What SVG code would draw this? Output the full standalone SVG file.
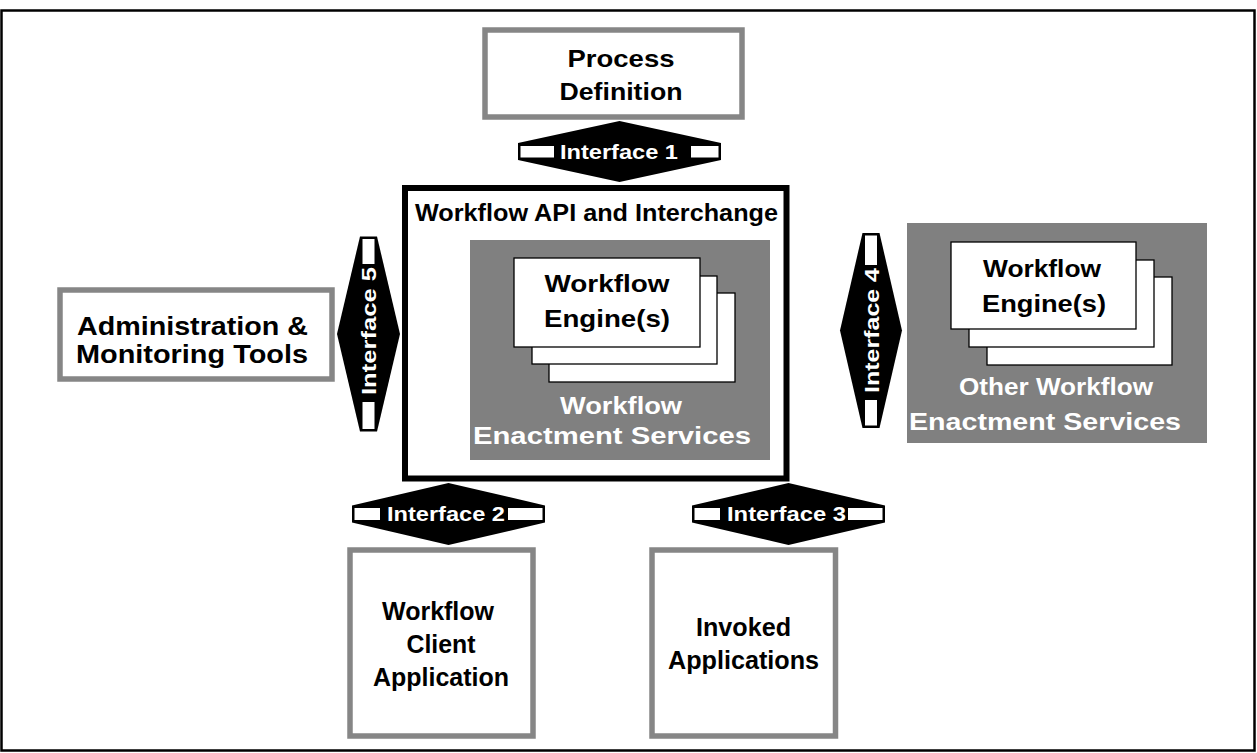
<svg xmlns="http://www.w3.org/2000/svg" width="1257" height="753" viewBox="0 0 1257 753">
  <style>
    text { font-family: "Liberation Sans", Arial, sans-serif; font-weight: bold; text-anchor: middle; }
    .frame { fill: none; stroke: #000; stroke-width: 2.5; }
    .tool { fill: #fff; stroke: #868686; stroke-width: 5.5; }
    .core { fill: #fff; stroke: #000; stroke-width: 6; }
    .svc { fill: #808080; }
    .card { fill: #fff; stroke: #000; stroke-width: 1.3; }
    .dark { fill: #000; font-size: 24.5px; }
    .light { fill: #fff; font-size: 24.5px; }
    .big { font-size: 25.5px; }
    .title { fill: #000; font-size: 23.5px; }
    .arrow { fill: #000; }
    .gap { fill: #fff; }
    .iflabel { fill: #fff; font-size: 21px; }
  </style>

  <rect class="frame" x="1.5" y="10.5" width="1253" height="740"/>

  <!-- Process definition tool -->
  <g id="process-definition">
    <rect class="tool" x="485" y="30" width="257" height="87"/>
    <text class="dark" x="621" y="67" textLength="107" lengthAdjust="spacingAndGlyphs">Process</text>
    <text class="dark" x="621" y="100" textLength="123" lengthAdjust="spacingAndGlyphs">Definition</text>
  </g>

  <!-- Workflow API and Interchange with enactment service -->
  <g id="workflow-api">
    <rect class="core" x="405" y="188" width="381.5" height="290.5"/>
    <text class="title" x="596.5" y="221" textLength="363" lengthAdjust="spacingAndGlyphs">Workflow API and Interchange</text>
  </g>

  <g id="enactment-services">
    <rect class="svc" x="470" y="240" width="300" height="220"/>
    <rect class="card" x="549" y="293" width="186" height="89"/>
    <rect class="card" x="532" y="276" width="185" height="88"/>
    <rect class="card" x="514" y="258" width="186" height="89"/>
    <text class="dark" x="607" y="292" textLength="125" lengthAdjust="spacingAndGlyphs">Workflow</text>
    <text class="dark" x="607" y="327" textLength="126" lengthAdjust="spacingAndGlyphs">Engine(s)</text>
    <text class="light" x="621" y="414" textLength="122" lengthAdjust="spacingAndGlyphs">Workflow</text>
    <text class="light" x="612" y="444" textLength="278" lengthAdjust="spacingAndGlyphs">Enactment Services</text>
  </g>

  <!-- Other enactment services -->
  <g id="other-enactment-services">
    <rect class="svc" x="907" y="223" width="300" height="220"/>
    <rect class="card" x="987" y="277" width="185" height="88"/>
    <rect class="card" x="969" y="260" width="185" height="87"/>
    <rect class="card" x="951" y="242" width="185" height="87"/>
    <text class="dark" x="1042" y="277" textLength="118" lengthAdjust="spacingAndGlyphs">Workflow</text>
    <text class="dark" x="1044" y="312" textLength="124" lengthAdjust="spacingAndGlyphs">Engine(s)</text>
    <text class="light" x="1056" y="395" textLength="194" lengthAdjust="spacingAndGlyphs">Other Workflow</text>
    <text class="light" x="1045" y="430" textLength="272" lengthAdjust="spacingAndGlyphs">Enactment Services</text>
  </g>

  <!-- Administration and monitoring -->
  <g id="admin-tools">
    <rect class="tool" x="60" y="290" width="272" height="89"/>
    <text class="dark big" x="192.5" y="335" textLength="231" lengthAdjust="spacingAndGlyphs">Administration &amp;</text>
    <text class="dark big" x="192" y="363" textLength="232" lengthAdjust="spacingAndGlyphs">Monitoring Tools</text>
  </g>

  <!-- Client application -->
  <g id="client-application">
    <rect class="tool" x="350" y="550" width="183" height="186"/>
    <text class="dark big" x="438" y="620" textLength="112" lengthAdjust="spacingAndGlyphs">Workflow</text>
    <text class="dark big" x="441" y="653" textLength="69" lengthAdjust="spacingAndGlyphs">Client</text>
    <text class="dark big" x="441" y="686" textLength="136" lengthAdjust="spacingAndGlyphs">Application</text>
  </g>

  <!-- Invoked applications -->
  <g id="invoked-applications">
    <rect class="tool" x="652" y="550" width="183.5" height="186"/>
    <text class="dark big" x="743.5" y="636" textLength="95" lengthAdjust="spacingAndGlyphs">Invoked</text>
    <text class="dark big" x="743.5" y="669" textLength="151" lengthAdjust="spacingAndGlyphs">Applications</text>
  </g>

  <!-- Interface arrows -->
  <g id="connectors">
    <g id="interface-1">
      <polygon class="arrow" points="518,143 619.5,121 721,143 721,160 619.5,182 518,160"/>
      <rect class="gap" x="520.5" y="146" width="198" height="11.5"/>
      <rect class="arrow" x="554" y="143" width="137" height="17"/>
      <text class="iflabel" x="619" y="159" textLength="118" lengthAdjust="spacingAndGlyphs">Interface 1</text>
    </g>
    <g id="interface-2">
      <polygon class="arrow" points="352,505.5 448.5,483 545,505.5 545,522.5 448.5,545 352,522.5"/>
      <rect class="gap" x="354.5" y="508" width="188" height="12"/>
      <rect class="arrow" x="380" y="505.5" width="128" height="17"/>
      <text class="iflabel" x="446" y="521" textLength="118" lengthAdjust="spacingAndGlyphs">Interface 2</text>
    </g>
    <g id="interface-3">
      <polygon class="arrow" points="692,505.5 788.5,483 885,505.5 885,522.5 788.5,545 692,522.5"/>
      <rect class="gap" x="694.5" y="508" width="188" height="12"/>
      <rect class="arrow" x="720" y="505.5" width="128" height="17"/>
      <text class="iflabel" x="786.5" y="521" textLength="119" lengthAdjust="spacingAndGlyphs">Interface 3</text>
    </g>
    <g id="interface-4">
      <polygon class="arrow" points="862.5,233 879.5,233 902,330.5 879.5,428 862.5,428 840,330.5"/>
      <rect class="gap" x="865" y="235.5" width="12" height="190"/>
      <rect class="arrow" x="862.5" y="265" width="17" height="135"/>
      <text class="iflabel" transform="translate(871 330.5) rotate(-90)" x="0" y="7.5" textLength="125" lengthAdjust="spacingAndGlyphs">Interface 4</text>
    </g>
    <g id="interface-5">
      <polygon class="arrow" points="360,236.5 377,236.5 400,334 377,431.5 360,431.5 337,334"/>
      <rect class="gap" x="362.5" y="239" width="12" height="190"/>
      <rect class="arrow" x="360" y="264" width="17" height="138"/>
      <text class="iflabel" transform="translate(368.5 331) rotate(-90)" x="0" y="7.5" textLength="128" lengthAdjust="spacingAndGlyphs">Interface 5</text>
    </g>
  </g>
</svg>
